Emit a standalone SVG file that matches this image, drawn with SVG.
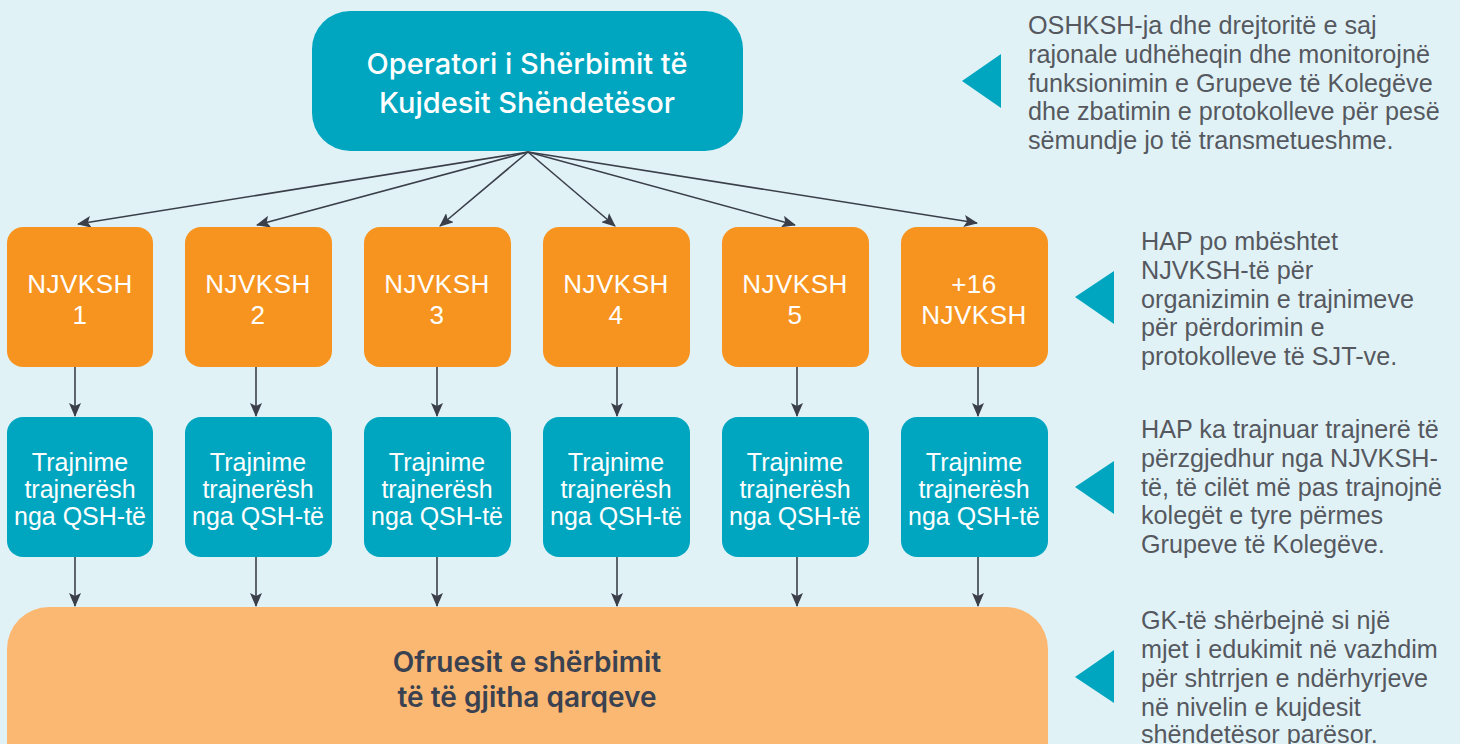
<svg xmlns="http://www.w3.org/2000/svg" width="1460" height="744" viewBox="0 0 1460 744">
<style>
.bg{fill:#e1f2f7}
.teal{fill:#00a6c0}
.org{fill:#f7941f}
.lorg{fill:#fbb872}
.tri{fill:#00a6c0}
.wt{font-family:"Liberation Sans",Arial,sans-serif;font-size:25px;fill:#ffffff;text-anchor:middle}
.wo{font-family:"Liberation Sans",Arial,sans-serif;font-size:26px;letter-spacing:0.5px;fill:#ffffff;text-anchor:middle}
.hd{font-family:Inter,"Liberation Sans",sans-serif;font-size:29px;font-weight:500;fill:#ffffff;text-anchor:middle}
.bt{font-family:Inter,"Liberation Sans",sans-serif;font-size:28px;font-weight:600;fill:#3a4150;text-anchor:middle}
.note{font-family:"Liberation Sans",Arial,sans-serif;font-size:25.2px;fill:#55595f}
.conn{stroke:#3a3f4a;stroke-width:1.6;fill:none;marker-end:url(#ah)}
</style>
<defs>
<marker id="ah" viewBox="0 0 14 12" refX="13" refY="6" markerWidth="14" markerHeight="12" markerUnits="userSpaceOnUse" orient="auto">
<path d="M0,0 L14,6 L0,12 L3,6 Z" fill="#3a3f4a"/>
</marker>
</defs>
<rect class="bg" x="0" y="0" width="1460" height="744"/>

<g id="connectors">
<line class="conn" x1="528" y1="152" x2="78" y2="224"/>
<line class="conn" x1="528" y1="152" x2="257" y2="225"/>
<line class="conn" x1="528" y1="152" x2="440" y2="226"/>
<line class="conn" x1="528" y1="152" x2="615" y2="226"/>
<line class="conn" x1="528" y1="152" x2="795" y2="225"/>
<line class="conn" x1="528" y1="152" x2="977" y2="223"/>
<line class="conn" x1="75" y1="367" x2="75" y2="416"/>
<line class="conn" x1="256" y1="367" x2="256" y2="416"/>
<line class="conn" x1="437" y1="367" x2="437" y2="416"/>
<line class="conn" x1="617" y1="367" x2="617" y2="416"/>
<line class="conn" x1="797" y1="367" x2="797" y2="416"/>
<line class="conn" x1="978" y1="367" x2="978" y2="416"/>
<line class="conn" x1="75" y1="557" x2="75" y2="606"/>
<line class="conn" x1="256" y1="557" x2="256" y2="606"/>
<line class="conn" x1="437" y1="557" x2="437" y2="606"/>
<line class="conn" x1="617" y1="557" x2="617" y2="606"/>
<line class="conn" x1="797" y1="557" x2="797" y2="606"/>
<line class="conn" x1="978" y1="557" x2="978" y2="606"/>
</g>

<g id="oshksh">
<rect class="teal" x="312" y="11" width="431" height="140" rx="38"/>
<text class="hd" x="527" y="74">Operatori i Shërbimit të</text>
<text class="hd" x="527" y="113">Kujdesit Shëndetësor</text>
</g>

<g id="njvksh1"><rect class="org" x="7" y="227" width="146" height="140" rx="16"/>
<text class="wo" x="80" y="293">NJVKSH</text><text class="wo" x="80" y="324">1</text></g>
<g id="njvksh2"><rect class="org" x="185" y="227" width="147" height="140" rx="16"/>
<text class="wo" x="258" y="293">NJVKSH</text><text class="wo" x="258" y="324">2</text></g>
<g id="njvksh3"><rect class="org" x="364" y="227" width="147" height="140" rx="16"/>
<text class="wo" x="437" y="293">NJVKSH</text><text class="wo" x="437" y="324">3</text></g>
<g id="njvksh4"><rect class="org" x="543" y="227" width="147" height="140" rx="16"/>
<text class="wo" x="616" y="293">NJVKSH</text><text class="wo" x="616" y="324">4</text></g>
<g id="njvksh5"><rect class="org" x="722" y="227" width="147" height="140" rx="16"/>
<text class="wo" x="795" y="293">NJVKSH</text><text class="wo" x="795" y="324">5</text></g>
<g id="njvksh16"><rect class="org" x="901" y="227" width="147" height="140" rx="16"/>
<text class="wo" x="974" y="293">+16</text><text class="wo" x="974" y="324">NJVKSH</text></g>

<g id="trajnime1"><rect class="teal" x="7" y="417" width="146" height="140" rx="16"/>
<text class="wt" x="80" y="471">Trajnime</text><text class="wt" x="80" y="498">trajnerësh</text><text class="wt" x="80" y="525">nga QSH-të</text></g>
<g id="trajnime2"><rect class="teal" x="185" y="417" width="147" height="140" rx="16"/>
<text class="wt" x="258" y="471">Trajnime</text><text class="wt" x="258" y="498">trajnerësh</text><text class="wt" x="258" y="525">nga QSH-të</text></g>
<g id="trajnime3"><rect class="teal" x="364" y="417" width="147" height="140" rx="16"/>
<text class="wt" x="437" y="471">Trajnime</text><text class="wt" x="437" y="498">trajnerësh</text><text class="wt" x="437" y="525">nga QSH-të</text></g>
<g id="trajnime4"><rect class="teal" x="543" y="417" width="147" height="140" rx="16"/>
<text class="wt" x="616" y="471">Trajnime</text><text class="wt" x="616" y="498">trajnerësh</text><text class="wt" x="616" y="525">nga QSH-të</text></g>
<g id="trajnime5"><rect class="teal" x="722" y="417" width="147" height="140" rx="16"/>
<text class="wt" x="795" y="471">Trajnime</text><text class="wt" x="795" y="498">trajnerësh</text><text class="wt" x="795" y="525">nga QSH-të</text></g>
<g id="trajnime16"><rect class="teal" x="901" y="417" width="147" height="140" rx="16"/>
<text class="wt" x="974" y="471">Trajnime</text><text class="wt" x="974" y="498">trajnerësh</text><text class="wt" x="974" y="525">nga QSH-të</text></g>

<g id="ofruesit">
<rect class="lorg" x="7" y="607" width="1041" height="190" rx="42"/>
<text class="bt" x="527" y="672">Ofruesit e shërbimit</text>
<text class="bt" x="527" y="707">të të gjitha qarqeve</text>
</g>

<g id="note1">
<polygon class="tri" points="962,81 1001,54 1001,108"/>
<text class="note" x="1028" y="34">OSHKSH-ja dhe drejtoritë e saj</text>
<text class="note" x="1028" y="63">rajonale udhëheqin dhe monitorojnë</text>
<text class="note" x="1028" y="92">funksionimin e Grupeve të Kolegëve</text>
<text class="note" x="1028" y="120">dhe zbatimin e protokolleve për pesë</text>
<text class="note" x="1028" y="149">sëmundje jo të transmetueshme.</text>
</g>
<g id="note2">
<polygon class="tri" points="1075,297 1114,271 1114,324"/>
<text class="note" x="1141" y="250">HAP po mbështet</text>
<text class="note" x="1141" y="279">NJVKSH-të për</text>
<text class="note" x="1141" y="308">organizimin e trajnimeve</text>
<text class="note" x="1141" y="336">për përdorimin e</text>
<text class="note" x="1141" y="365">protokolleve të SJT-ve.</text>
</g>
<g id="note3">
<polygon class="tri" points="1075,487 1114,461 1114,514"/>
<text class="note" x="1141" y="438">HAP ka trajnuar trajnerë të</text>
<text class="note" x="1141" y="467">përzgjedhur nga NJVKSH-</text>
<text class="note" x="1141" y="496">të, të cilët më pas trajnojnë</text>
<text class="note" x="1141" y="524">kolegët e tyre përmes</text>
<text class="note" x="1141" y="553">Grupeve të Kolegëve.</text>
</g>
<g id="note4">
<polygon class="tri" points="1075,677 1114,650 1114,703"/>
<text class="note" x="1141" y="629">GK-të shërbejnë si një</text>
<text class="note" x="1141" y="658">mjet i edukimit në vazhdim</text>
<text class="note" x="1141" y="687">për shtrrjen e ndërhyrjeve</text>
<text class="note" x="1141" y="716">në nivelin e kujdesit</text>
<text class="note" x="1141" y="743">shëndetësor parësor.</text>
</g>
</svg>
